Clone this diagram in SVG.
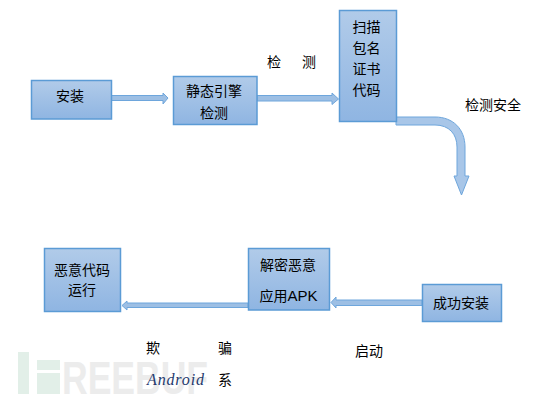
<svg xmlns="http://www.w3.org/2000/svg" width="533" height="401" viewBox="0 0 533 401">
<style>
text{font-family:"Noto Sans CJK SC","Liberation Sans",sans-serif;font-size:14px;fill:#000;text-anchor:middle}
.n{fill:url(#g);stroke:#5b9bd5;stroke-width:1.5}
.a{fill:#9dbfe4;stroke:#6ea6dc;stroke-width:1}
.wm{font-family:"Liberation Sans",sans-serif;font-weight:700;font-size:47px;fill:#ececec;text-anchor:start}
.lat{font-family:"Liberation Sans",sans-serif;font-size:15px}
.and{font-family:"Liberation Serif",serif;font-style:italic;font-size:16px;fill:#1f3a6e}
.lg{fill:#e2efe8}
</style>
<defs><linearGradient id="g" x1="0" y1="0" x2="0" y2="1"><stop offset="0" stop-color="#b1cbe9"/><stop offset="1" stop-color="#8fb5e2"/></linearGradient></defs>
<g id="watermark">
<rect class="lg" x="18" y="352" width="11" height="42"/>
<rect class="lg" x="37" y="360" width="23" height="10"/>
<rect class="lg" x="37" y="373" width="23" height="21"/>
<text class="wm" x="62" y="394" textLength="146" lengthAdjust="spacingAndGlyphs">REEBUF</text>
</g>
<g id="connectors">
<path class="a" d="M111 95.500H163V93L168 98L163 104V100.500H111Z"/>
<path class="a" d="M257 95.500H332V93L338.500 99L332 104.500V101H257Z"/>
<path class="a" d="M396 117H435C453 117 465 129 465 147V176H469L461.500 195L454 176H457V147C457 134 449 125 435 125H396Z" style="fill:#a8c6e8"/>
<path class="a" d="M422 300H336V297L331 302.500L336 308V305.500H422Z"/>
<path class="a" d="M248 303H127V301L122 305.500L127 310V307.500H248Z"/>
</g>
<g id="n1"><rect class="n" x="31.500" y="80.500" width="80" height="38.500"/><text x="70" y="101">安装</text></g>
<g id="n2"><rect class="n" x="173.500" y="76.500" width="83.500" height="48"/><text x="214" y="96">静态引擎</text><text x="214" y="118">检测</text></g>
<g id="n3"><rect class="n" x="339.500" y="10.500" width="57" height="111"/><text x="366.500" y="32">扫描</text><text x="366.500" y="53">包名</text><text x="366.500" y="74">证书</text><text x="366.500" y="95">代码</text></g>
<g id="n4"><rect class="n" x="422.500" y="284.500" width="79" height="37"/><text x="461" y="308">成功安装</text></g>
<g id="n5"><rect class="n" x="248.500" y="248.500" width="81" height="61.500"/><text x="288" y="270">解密恶意</text><text x="288.500" y="301">应用<tspan class="lat">APK</tspan></text></g>
<g id="n6"><rect class="n" x="44.500" y="248.500" width="76" height="63"/><text x="82" y="275">恶意代码</text><text x="82" y="295">运行</text></g>
<g id="labels">
<text x="274" y="67">检</text><text x="309" y="67">测</text>
<text x="493" y="110">检测安全</text>
<text x="369" y="356">启动</text>
<text x="153" y="353">欺</text><text x="225" y="353">骗</text>
<text class="and" x="175.500" y="385" textLength="57">Android</text><text x="225" y="385">系</text>
</g>
</svg>
